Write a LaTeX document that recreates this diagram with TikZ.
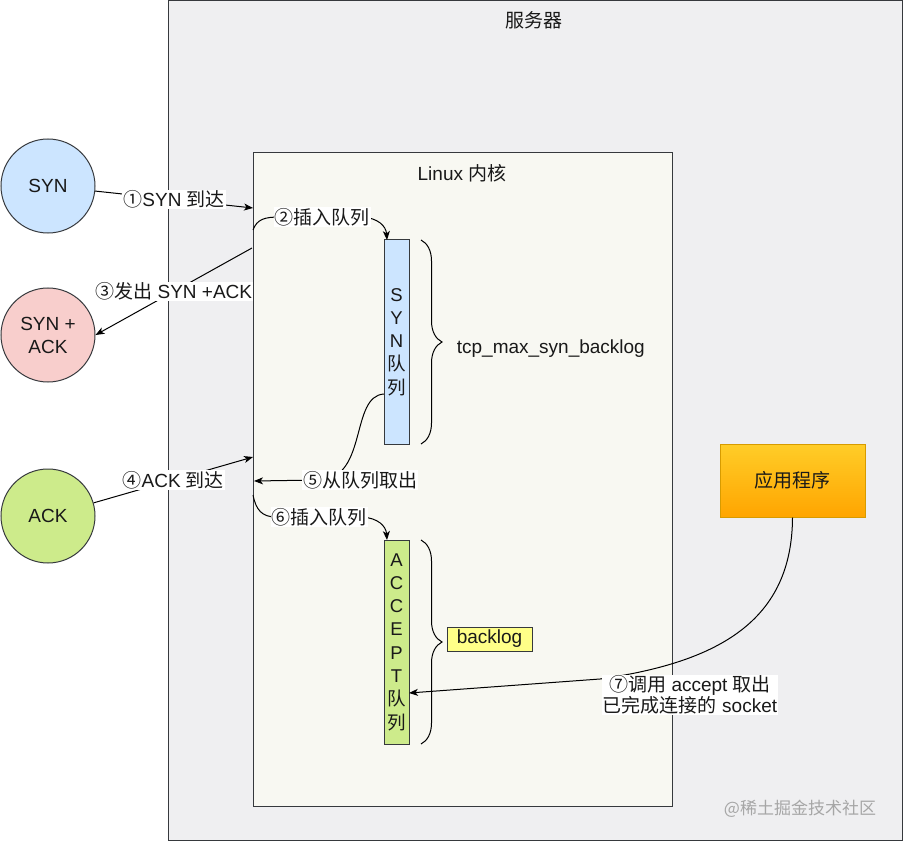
\documentclass[tikz,border=0pt]{standalone}
\usepackage{fontspec}
\setmainfont{Liberation Sans}
\newfontfamily\cjk{Noto Sans CJK SC}
\usetikzlibrary{arrows.meta,decorations.pathreplacing,calc,shadings}
\newcommand\zh[1]{{\cjk #1}}
\definecolor{strk}{HTML}{36393D}
\definecolor{srvfill}{HTML}{EFEFF1}
\definecolor{kerfill}{HTML}{F8F8F2}
\definecolor{synfill}{HTML}{CCE5FF}
\definecolor{synackfill}{HTML}{F8CECC}
\definecolor{ackfill}{HTML}{CDEB8B}
\definecolor{notefill}{HTML}{FFFF88}
\definecolor{apptop}{HTML}{FFCD28}
\definecolor{appbot}{HTML}{FFA500}
\definecolor{appstroke}{HTML}{D79B00}
\begin{document}
\begin{tikzpicture}[x=1pt,y=-1pt,line width=1pt,
  txt/.style={font=\fontsize{19}{22}\selectfont, text=black!90},
  circ/.style={circle, draw=strk, minimum size=94, inner sep=0pt, txt, align=center},
  queue/.style={rectangle, draw=strk, minimum width=25, minimum height=204, inner sep=0pt, align=center, font=\fontsize{18.5}{23.3}\selectfont, text=black!90},
  lbl/.style={fill=white, inner sep=1pt, txt, align=center},
  arr/.style={draw=black, -{Stealth[length=9pt,width=7pt,inset=2.5pt]}},
  brc/.style={draw=black, decorate, decoration={brace, amplitude=21pt, aspect=0.5}}
]
\useasboundingbox (0,0) rectangle (904,842);
\fill[white] (0,0) rectangle (904,842);
% containers
\draw[strk, fill=srvfill] (168,1) rectangle (902,840);
\node[txt] (srvlbl) at (534,20) {\zh{服务器}};
\draw[strk, fill=kerfill] (253,153) rectangle (672,806);
\node[txt] (kerlbl) at (462,173) {Linux \zh{内核}};
% packets
\node[circ, fill=synfill] (syn) at (48,186) {SYN};
\node[circ, fill=synackfill, font=\fontsize{19}{23}\selectfont] (synack) at (48,335) {SYN +\\ACK};
\node[circ, fill=ackfill] (ack) at (48,516) {ACK};
% queues
\node[queue, fill=synfill] (synq) at (396.5,342) {S\\Y\\N\\\zh{队}\\\zh{列}};
\node[queue, fill=ackfill] (acq) at (396.5,642) {A\\C\\C\\E\\P\\T\\\zh{队}\\\zh{列}};
\draw[brc] (421,240) -- (421,444);
\node[txt, anchor=west] (tcpl) at (453,349) {tcp\_max\_syn\_backlog};
\draw[brc] (421,540) -- (421,744);
\node[draw=strk, fill=notefill, txt, minimum width=85, minimum height=24, inner sep=0pt] (bkl) at (489.5,639) {backlog};
% application
\node[draw=appstroke, top color=apptop, bottom color=appbot, txt, minimum width=145, minimum height=73] (app) at (792.5,480.5) {\zh{应用程序}};
% anchor points
\coordinate (k1) at (253,208);
\coordinate (k2) at (253,230);
\coordinate (k3) at (252,248);
\coordinate (k4) at (253,457);
\coordinate (k5) at (254,481);
\coordinate (k6) at (253,495);
\coordinate (q2) at (387,240);
\coordinate (q5) at (384,394);
\coordinate (q6) at (387,540);
\coordinate (q7) at (409,693);
% connectors
\draw[arr] (syn) -- (k1) node[lbl, pos=0.5] (l1) {\zh{①}SYN \zh{到达}};
\draw[arr] (k2) .. controls (257,219) and (265,217) .. (280,217) -- (362,217) .. controls (378,218) and (386,226) .. (q2);
\node[lbl] (l2) at (322,217) {\zh{②插入队列}};
\draw[arr] (k3) -- (synack.east) node[lbl, pos=0.5] (l3) {\zh{③发出} SYN +ACK};
\draw[arr] (ack) -- (k4) node[lbl, pos=0.5] (l4) {\zh{④}ACK \zh{到达}};
\draw[arr] (q5) .. controls (350,396) and (368,478) .. (320,480) -- (k5);
\node[lbl] (l5) at (360,480) {\zh{⑤从队列取出}};
\draw[arr] (k6) .. controls (256,510) and (262,517) .. (276,517) -- (362,517) .. controls (378,518) and (386,526) .. (q6);
\node[lbl] (l6) at (319,517) {\zh{⑥插入队列}};
\draw[arr] (app.south) .. controls (792,620) and (720,662) .. (600,679) -- (q7);
\node[lbl, font=\fontsize{19}{21}\selectfont] (l7) at (690,695) {\zh{⑦调用} accept \zh{取出}\\\zh{已完成连接的} socket};
% watermark
\node[text=black!35, font=\fontsize{17}{20}\selectfont] (wm) at (800,809) {\zh{@稀土掘金技术社区}};
\end{tikzpicture}
\end{document}
